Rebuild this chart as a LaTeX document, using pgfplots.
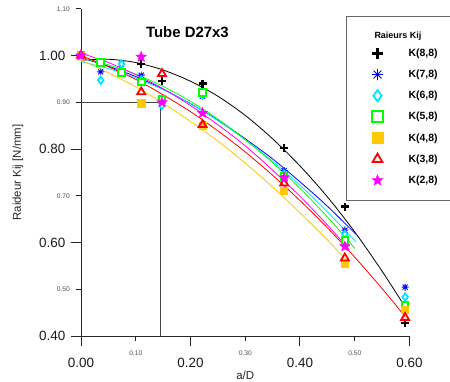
\documentclass[border=0pt]{standalone}
\usepackage{pgfplots}
\pgfplotsset{compat=1.18}
\usepackage{fontspec}
\setmainfont{Liberation Sans}
\definecolor{kblue}{RGB}{0,0,255}
\definecolor{kcyan}{RGB}{0,230,255}
\definecolor{kgreen}{RGB}{0,255,0}
\definecolor{korange}{RGB}{255,200,0}
\definecolor{kred}{RGB}{255,0,0}
\definecolor{kmag}{RGB}{255,0,255}
\definecolor{refgray}{RGB}{70,70,70}
\newcommand{\legbox}[1]{\makebox[46.5bp][l]{#1}}
\pgfdeclareplotmark{ast8}{%
  \pgfpathmoveto{\pgfqpoint{-\pgfplotmarksize}{0pt}}\pgfpathlineto{\pgfqpoint{\pgfplotmarksize}{0pt}}%
  \pgfpathmoveto{\pgfqpoint{0pt}{-\pgfplotmarksize}}\pgfpathlineto{\pgfqpoint{0pt}{\pgfplotmarksize}}%
  \pgfpathmoveto{\pgfpointpolar{45}{\pgfplotmarksize}}\pgfpathlineto{\pgfpointpolar{225}{\pgfplotmarksize}}%
  \pgfpathmoveto{\pgfpointpolar{135}{\pgfplotmarksize}}\pgfpathlineto{\pgfpointpolar{315}{\pgfplotmarksize}}%
  \pgfusepathqstroke}
\pgfdeclareplotmark{fstar}{%
  \pgfpathmoveto{\pgfpointpolar{90}{\pgfplotmarksize}}%
  \pgfpathlineto{\pgfpointpolar{126}{0.45\pgfplotmarksize}}%
  \pgfpathlineto{\pgfpointpolar{162}{\pgfplotmarksize}}%
  \pgfpathlineto{\pgfpointpolar{198}{0.45\pgfplotmarksize}}%
  \pgfpathlineto{\pgfpointpolar{234}{\pgfplotmarksize}}%
  \pgfpathlineto{\pgfpointpolar{270}{0.45\pgfplotmarksize}}%
  \pgfpathlineto{\pgfpointpolar{306}{\pgfplotmarksize}}%
  \pgfpathlineto{\pgfpointpolar{342}{0.45\pgfplotmarksize}}%
  \pgfpathlineto{\pgfpointpolar{18}{\pgfplotmarksize}}%
  \pgfpathlineto{\pgfpointpolar{54}{0.45\pgfplotmarksize}}%
  \pgfpathclose\pgfusepathqfillstroke}
\begin{document}
\begin{tikzpicture}
\path[use as bounding box] (0,0) rectangle (450bp,382bp);
\begin{axis}[
  at={(81bp,45.7bp)}, anchor=south west,
  scale only axis, width=328.5bp, height=327.6bp,
  xmin=0, xmax=0.6, ymin=0.4, ymax=1.1,
  axis lines=left, axis line style={-, line width=1bp, color=black!85},
  tick align=outside, major tick length=10bp,
  tick style={line width=1bp, color=black!85},
  xtick={0,0.2,0.4,0.6}, ytick={0.4,0.6,0.8,1.0},
  extra x ticks={0.1,0.3,0.5}, extra y ticks={0.5,0.7,0.9,1.1},
  extra x tick style={major tick length=5bp, tick label style={font=\fontsize{6.7}{7}\selectfont, color=black!70, yshift=2.5bp}},
  extra y tick style={major tick length=5bp, tick label style={font=\fontsize{6.7}{7}\selectfont, color=black!70, xshift=-0.5bp}},
  /pgf/number format/assume math mode=true,
  /pgf/number format/.cd, fixed, fixed zerofill, precision=2, /pgfplots/.cd,
  tick label style={font=\fontsize{13.5}{14}\selectfont, color=black!90},
  xticklabel style={anchor=north, inner sep=0pt, yshift=-12bp},
  yticklabel style={anchor=east, inner sep=0pt, xshift=-5.5bp},
  xlabel={a/D}, ylabel={Raideur Kij [N/mm]},
  label style={font=\fontsize{11.5}{12}\selectfont, color=black!85},
  xlabel style={at={(axis description cs:0.5,-0.1197)}, anchor=center},
  ylabel style={at={(axis description cs:-0.192,0.5)}, anchor=center},
  clip=false,
  legend cell align=left,
  legend style={at={(0.8058,0.9786)}, anchor=north west, draw=black!60, line width=1bp,
    inner xsep=4bp, inner ysep=11.7bp, row sep=5.17bp, column sep=0pt,
    nodes={inner sep=0pt, font=\fontsize{10.5}{12}\selectfont\bfseries}},
  legend image code/.code={\draw[#1] plot coordinates {(27.3bp,0bp)}; \path[draw=none, fill=none] (0bp,-8bp) rectangle (58.3bp,8bp);},
  legend image post style={mark size=5.6bp},
]
\addlegendimage{empty legend}
\addlegendentry{\hspace*{-34bp}\raisebox{0pt}[10.8bp][5.9bp]{\fontsize{9}{9}\selectfont\bfseries Raieurs Kij}}

% reference lines
\addplot[forget plot, color=refgray, line width=1bp] coordinates {(0,0.9) (0.1443,0.9) (0.1443,0.4)};

% fitted curves
\addplot[forget plot, smooth, black, line width=0.8bp] coordinates {(0,0.990)(0.05,0.992)(0.1,0.985)(0.15,0.969)(0.2,0.945)(0.25,0.913)(0.3,0.872)(0.35,0.822)(0.4,0.764)(0.45,0.698)(0.5,0.623)(0.55,0.539)(0.588,0.470)};
\addplot[forget plot, smooth, kblue, line width=0.8bp] coordinates {(0,0.995)(0.05,0.977)(0.1,0.955)(0.15,0.928)(0.2,0.897)(0.25,0.862)(0.3,0.822)(0.35,0.779)(0.4,0.730)(0.45,0.678)(0.503,0.617)};
\addplot[forget plot, smooth, kcyan, line width=0.8bp] coordinates {(0,0.987)(0.05,0.972)(0.1,0.952)(0.15,0.927)(0.2,0.897)(0.25,0.861)(0.3,0.820)(0.35,0.774)(0.4,0.723)(0.45,0.666)(0.502,0.602)};
\addplot[forget plot, smooth, kgreen, line width=0.8bp] coordinates {(0,0.995)(0.05,0.980)(0.1,0.960)(0.15,0.934)(0.2,0.902)(0.25,0.864)(0.3,0.820)(0.35,0.771)(0.4,0.716)(0.45,0.655)(0.5,0.588)};
\addplot[forget plot, smooth, korange, line width=0.8bp] coordinates {(0,0.990)(0.05,0.963)(0.1,0.933)(0.15,0.898)(0.2,0.859)(0.25,0.817)(0.3,0.770)(0.35,0.719)(0.4,0.664)(0.45,0.606)(0.49,0.556)};
\addplot[forget plot, smooth, kred, line width=0.8bp] coordinates {(0,1.000)(0.05,0.976)(0.1,0.949)(0.15,0.916)(0.2,0.880)(0.25,0.839)(0.3,0.794)(0.35,0.744)(0.4,0.690)(0.45,0.632)(0.5,0.569)(0.55,0.502)(0.592,0.442)};
\addplot[forget plot, smooth, kmag, line width=0.8bp] coordinates {(0,1.005)(0.05,0.985)(0.1,0.959)(0.15,0.929)(0.2,0.893)(0.25,0.852)(0.3,0.807)(0.35,0.755)(0.4,0.699)(0.45,0.638)(0.49,0.585)};

% measured points
\addplot[only marks, mark=+, mark size=4bp, mark options={line width=2.4bp, black}] coordinates {(0,1.000)(0.110,0.982)(0.148,0.945)(0.222,0.940)(0.371,0.802)(0.482,0.677)(0.592,0.428)};
\addlegendentry{\legbox{K(8,8)}}
\addplot[only marks, mark=ast8, mark size=3.6bp, mark options={line width=0.9bp, kblue}] coordinates {(0,1.000)(0.036,0.965)(0.074,0.982)(0.110,0.958)(0.222,0.913)(0.371,0.754)(0.482,0.627)(0.592,0.505)};
\addlegendentry{\legbox{K(7,8)}}
\addplot[only marks, mark=diamond*, mark size=3.6bp, mark options={line width=1.8bp, draw=kcyan, fill=white}] coordinates {(0,1.000)(0.036,0.947)(0.074,0.982)(0.110,0.948)(0.148,0.893)(0.222,0.915)(0.371,0.747)(0.482,0.618)(0.592,0.484)};
\addlegendentry{\legbox{K(6,8)}}
\addplot[only marks, mark=square*, mark size=3.3bp, mark options={line width=2bp, draw=kgreen, fill=white}] coordinates {(0,1.000)(0.036,0.985)(0.074,0.964)(0.110,0.943)(0.148,0.906)(0.222,0.921)(0.371,0.742)(0.482,0.605)(0.592,0.467)};
\addlegendentry{\legbox{K(5,8)}}
\addplot[only marks, mark=square*, mark size=3.6bp, mark options={line width=0.5bp, draw=korange, fill=korange}] coordinates {(0,1.000)(0.110,0.898)(0.222,0.850)(0.371,0.711)(0.482,0.555)(0.592,0.457)};
\addlegendentry{\legbox{K(4,8)}}
\addplot[only marks, mark=triangle, mark size=4.6bp, mark options={line width=1.8bp, kred}] coordinates {(0,1.000)(0.110,0.922)(0.148,0.961)(0.222,0.852)(0.371,0.727)(0.482,0.567)(0.592,0.440)};
\addlegendentry{\legbox{K(3,8)}}
\addplot[only marks, mark=fstar, mark size=5.5bp, mark options={line width=0.4bp, draw=kmag, fill=kmag}] coordinates {(0,1.000)(0.110,0.997)(0.148,0.900)(0.222,0.877)(0.371,0.739)(0.482,0.592)};
\addlegendentry{\legbox{K(2,8)}}

\node[font=\fontsize{15}{16}\selectfont\bfseries, anchor=center] at (rel axis cs:0.324,0.929) {Tube D27x3};
\end{axis}
\end{tikzpicture}
\end{document}
